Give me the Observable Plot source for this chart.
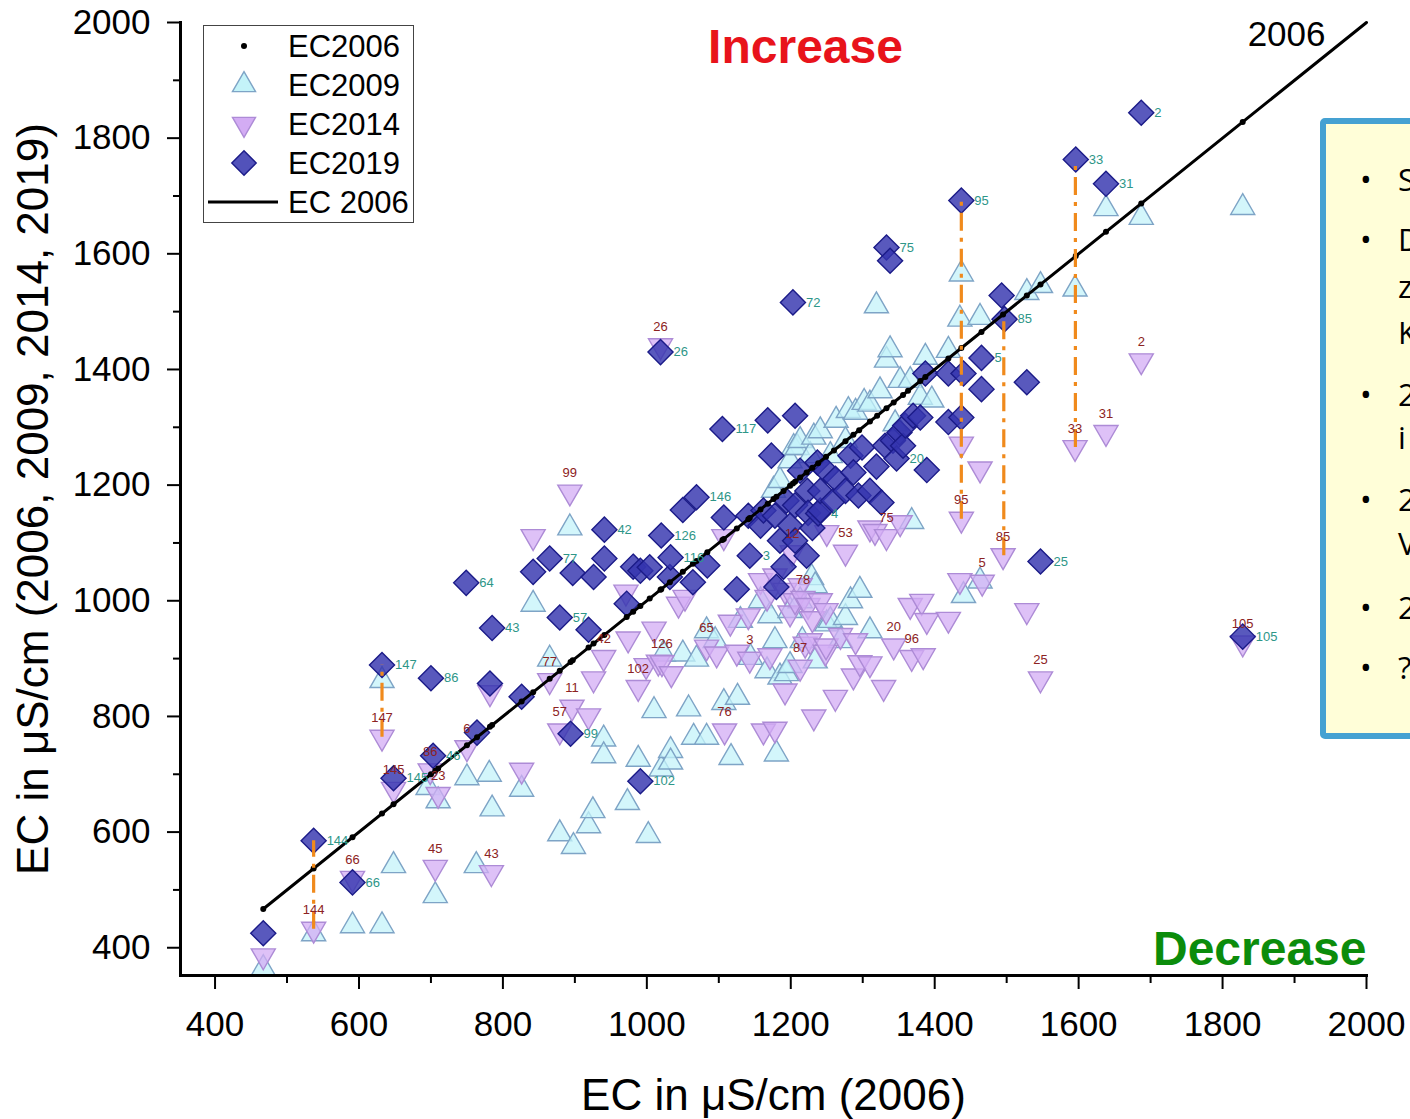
<!DOCTYPE html>
<html><head><meta charset="utf-8">
<script src="https://cdn.jsdelivr.net/npm/d3@7"></script>
<script src="https://cdn.jsdelivr.net/npm/@observablehq/plot@0.6"></script>
<style>
body{margin:0;background:#fff;overflow:hidden;width:1410px;height:1119px;position:relative;font-family:"Liberation Sans",Arial,sans-serif;}
#chart{position:absolute;left:0;top:0;}
.legend{position:absolute;left:203px;top:25px;width:211px;height:198px;border:1.5px solid #444;background:#fff;box-sizing:border-box;}
.note{position:absolute;left:1320px;top:118px;width:150px;height:621px;border:6px solid #45a1d2;border-radius:5px;background:#fffed8;box-sizing:border-box;font-family:"Open Sans","Noto Sans",sans-serif;font-size:31px;color:#000;}
.note span{position:absolute;white-space:nowrap;line-height:1;}
.note span.bl{left:34px;}
.note span.tx{left:72px;}
</style></head><body>
<div id="chart"></div>
<div class="legend" id="legend"></div>
<div class="note">
  <span class="bl" style="top:40px">•</span><span class="tx" style="top:40px">S</span>
  <span class="bl" style="top:100px">•</span><span class="tx" style="top:100px">D</span>
  <span class="tx" style="top:147px">z</span>
  <span class="tx" style="top:193px">K</span>
  <span class="bl" style="top:255px">•</span><span class="tx" style="top:255px">2</span>
  <span class="tx" style="top:298px">i</span>
  <span class="bl" style="top:360px">•</span><span class="tx" style="top:360px">2</span>
  <span class="tx" style="top:404px">V</span>
  <span class="bl" style="top:468px">•</span><span class="tx" style="top:468px">2</span>
  <span class="bl" style="top:528px">•</span><span class="tx" style="top:528px">?</span>
</div>
<script>
// ---- data (EC in µS/cm) ----
// site EC in 2006 (points on the 1:1 line)
const ec2006 = [467,537,591,632,648,700,706,710,750,764,782,785,826,842,865,879,894,897,919,926,941,972,981,991,1004,1019,1020,1032,1050,1064,1069,1084,1105,1107,1125,1141,1143,1158,1168,1176,1180,1190,1199,1203,1206,1213,1222,1230,1238,1249,1260,1276,1287,1295,1310,1320,1333,1343,1356,1363,1380,1387,1419,1437,1465,1495,1528,1547,1596,1638,1687,1828];

// [EC2006, EC2009]
const ec2009 = [[467,364],[537,424],[591,438],[632,438],[632,862],[648,542],[696,677],[706,490],[710,654],[750,694],[763,542],[781,700],[785,640],[826,674],[842,994],[865,899],[879,597],[893,1126],[898,575],[919,611],[925,637],[940,761],[940,732],[973,651],[988,726],[1002,594],[1010,810],[1020,709],[1023,908],[1033,741],[1033,721],[1050,908],[1058,813],[1065,764],[1069,899],[1083,764],[1083,948],[1095,931],[1107,824],[1117,729],[1126,833],[1130,966],[1144,902],[1158,1000],[1167,879],[1171,974],[1176,1191],[1178,931],[1180,735],[1185,868],[1185,1208],[1194,874],[1199,983],[1199,888],[1199,1242],[1204,1265],[1209,1265],[1213,1000],[1213,1277],[1216,931],[1227,1251],[1229,1040],[1232,1283],[1234,1026],[1234,896],[1241,1294],[1250,960],[1255,966],[1255,1251],[1263,1312],[1269,931],[1276,971],[1276,1277],[1280,1329],[1283,1000],[1290,1326],[1296,1018],[1302,1343],[1310,948],[1310,1340],[1319,1510],[1324,1363],[1333,1416],[1338,1434],[1345,1306],[1352,1381],[1366,1381],[1368,1137],[1380,1352],[1387,1421],[1396,1347],[1419,1433],[1435,1487],[1437,1565],[1440,1009],[1463,1490],[1463,1034],[1528,1533],[1547,1545],[1595,1539],[1638,1678],[1687,1663],[1828,1680]];

// [EC2006, EC2014, site label]
const ec2014 = [[467,386],[537,432,"144"],[591,520,"66"],[632,764,"147"],[648,674,"145"],[699,706,"86"],[706,539,"45"],[710,665,"23"],[750,746,"6"],[782,841],[784,530,"43"],[826,707],[842,1111],[865,862,"77"],[879,775,"57"],[893,1188,"99"],[896,816,"11"],[919,801],[926,865],[940,902,"42"],[971,1015],[974,934],[988,850,"102"],[999,888],[1010,951],[1016,894],[1019,1441,"26"],[1021,893,"126"],[1034,874],[1044,994],[1053,1006],[1083,920,"65"],[1097,908],[1107,1111],[1108,775,"76"],[1116,963],[1125,911],[1141,974],[1143,899,"3"],[1158,1035],[1162,775],[1167,1006],[1171,905],[1178,778],[1178,1043],[1192,1018],[1192,844],[1199,979],[1202,1083,"12"],[1206,1000],[1213,885,"87"],[1213,1026],[1217,1004,"78"],[1220,925],[1224,992],[1227,931],[1230,969],[1232,799],[1241,1000],[1248,911],[1249,983],[1249,922],[1250,1118],[1262,833],[1269,940],[1276,1084,"53"],[1287,870],[1290,931],[1296,893],[1310,891],[1310,1126],[1317,1120],[1329,850],[1333,1111,"75"],[1343,922,"20"],[1352,1135],[1366,992],[1368,902,"96"],[1382,999],[1384,905],[1389,966],[1419,968],[1435,1035],[1437,1141,"95"],[1437,1271],[1463,1228],[1466,1032,"5"],[1495,1078,"85"],[1528,983],[1547,865,"25"],[1595,1265,"33"],[1638,1291,"31"],[1687,1415,"2"],[1828,927,"105"]];

// [EC2006, EC2019, site label]
const ec2019 = [[467,425],[537,585,"144"],[591,513,"66"],[632,889,"147"],[648,693,"145"],[700,866,"86"],[703,732,"46"],[749,1031,"64"],[764,772],[782,857],[785,953,"43"],[826,834],[842,1050],[865,1073,"77"],[879,971,"57"],[894,770,"99"],[897,1048],[919,950],[926,1041],[941,1123,"42"],[941,1073],[972,995],[981,1059],[991,1052],[991,688,"102"],[1004,1058],[1019,1430,"26"],[1020,1113,"126"],[1032,1041],[1033,1075,"116"],[1050,1157],[1064,1032],[1069,1179,"146"],[1084,1061],[1105,1297,"117"],[1107,1144],[1125,1020],[1141,1147],[1143,1078,"3"],[1158,1130],[1162,1156],[1168,1312],[1173,1251],[1178,1147],[1180,1024],[1185,1104],[1190,1059],[1194,1173],[1199,1130],[1203,1516,"72"],[1206,1320],[1206,1165],[1206,1104],[1213,1225],[1222,1078],[1223,1190],[1224,1152],[1230,1126],[1237,1239],[1238,1151,"4"],[1241,1156],[1241,1190],[1249,1225],[1259,1173],[1262,1211],[1276,1190],[1283,1251],[1287,1222],[1294,1182],[1299,1265],[1310,1190],[1319,1232],[1326,1170],[1331,1268],[1333,1611,"75"],[1338,1588],[1342,1277],[1347,1246,"20"],[1351,1291],[1356,1268],[1359,1303],[1370,1320],[1380,1317],[1387,1393],[1389,1226],[1419,1393],[1419,1309],[1437,1692,"95"],[1437,1317],[1440,1393],[1465,1420,"5"],[1465,1366],[1493,1528],[1497,1487,"85"],[1528,1378],[1547,1068,"25"],[1596,1763,"33"],[1638,1721,"31"],[1687,1844,"2"],[1828,938,"105"]];

// highlighted changes 2019 -> 2014 at selected sites
const changeSites = ["147","144","95","85","33"];

const majorTicks = [400,600,800,1000,1200,1400,1600,1800,2000];
const minorTicks = [500,700,900,1100,1300,1500,1700,1900];
const axisMax = 2000;

// ---- styling ----
const C2009 = {fill:"#c4f3f9", stroke:"#7ea4c6"};
const C2014 = {fill:"#d3acf4", stroke:"#ad8bd6"};
const C2019 = {fill:"#3434ae", stroke:"#1b1b88"};
const triDown = {draw(ctx, size){const s=Math.sqrt(size)*0.6824,t=s/2,u=s*Math.sqrt(3)/2;ctx.moveTo(0,s);ctx.lineTo(u,-t);ctx.lineTo(-u,-t);ctx.closePath();}};

const rules = changeSites.map(id => {
  const a = ec2019.find(d => d[2] === id), b = ec2014.find(d => d[2] === id);
  return {x: (a[0]+b[0])/2, y1: b[1], y2: a[1]};
});
const lineData = [d3.min(ec2006), axisMax];

const plot = Plot.plot({
  width:1410, height:1119,
  marginLeft:180, marginRight:44, marginTop:22, marginBottom:144,
  style:{fontFamily:"'Liberation Sans', Arial, sans-serif", fontSize:"35px", color:"#000", background:"transparent", overflow:"visible"},
  x:{domain:[352,2000]},
  y:{domain:[352,2000]},
  marks:[
    Plot.axisX({ticks:majorTicks, tickSize:14, tickPadding:22, strokeWidth:2, fontSize:35, label:null, tickFormat:d=>String(d)}),
    Plot.axisX({ticks:minorTicks, tickSize:8, strokeWidth:2, text:null, label:null}),
    Plot.axisY({ticks:majorTicks, tickSize:13, tickPadding:17, strokeWidth:2, fontSize:35, label:null, tickFormat:d=>String(d)}),
    Plot.axisY({ticks:minorTicks, tickSize:7, strokeWidth:2, text:null, label:null}),
    Plot.dot(ec2009, {x:d=>d[0], y:d=>d[1], symbol:"triangle2", r:11.5, fill:C2009.fill, fillOpacity:0.75, stroke:C2009.stroke, strokeWidth:1.4, clip:true}),
    Plot.dot(ec2014, {x:d=>d[0], y:d=>d[1], symbol:triDown, r:11.5, fill:C2014.fill, fillOpacity:0.75, stroke:C2014.stroke, strokeWidth:1.4, clip:true}),
    Plot.dot(ec2019, {x:d=>d[0], y:d=>d[1], symbol:"diamond2", r:11.3, fill:C2019.fill, fillOpacity:0.82, stroke:C2019.stroke, strokeWidth:1.4, clip:true}),
    Plot.line(lineData, {x:d=>d, y:d=>d, stroke:"#000", strokeWidth:3}),
    Plot.dot(ec2006, {x:d=>d, y:d=>d, r:3, fill:"#000"}),
    Plot.ruleX(rules, {x:"x", y1:"y1", y2:"y2", stroke:"#f08a1c", strokeWidth:3.2, strokeDasharray:"18,7,4,7"}),
    Plot.text(ec2019.filter(d=>d[2]), {x:d=>d[0], y:d=>d[1], text:d=>d[2], dx:13, textAnchor:"start", fill:"#2e9688", fontSize:13}),
    Plot.text(ec2014.filter(d=>d[2]), {x:d=>d[0], y:d=>d[1], text:d=>d[2], dy:-19, fill:"#8c2222", fontSize:13}),
    Plot.frame({anchor:"left", strokeWidth:3}),
    Plot.frame({anchor:"bottom", strokeWidth:3}),
    Plot.text(["2006"], {frameAnchor:"top-right", dx:-41, dy:12, textAnchor:"end", lineAnchor:"middle", fontSize:35}),
    Plot.text(["Increase"], {frameAnchor:"top", dx:32, dy:25, textAnchor:"middle", lineAnchor:"middle", fontSize:48, fontWeight:"bold", fill:"#e8131b"}),
    Plot.text(["Decrease"], {frameAnchor:"bottom-right", dx:0, dy:-26, textAnchor:"end", lineAnchor:"middle", fontSize:48, fontWeight:"bold", fill:"#0b8c0b"}),
    Plot.text(["EC in μS/cm (2006)"], {frameAnchor:"bottom", dy:120, textAnchor:"middle", lineAnchor:"middle", fontSize:44}),
    Plot.text(["EC in μS/cm (2006, 2009, 2014, 2019)"], {frameAnchor:"left", dx:-147, rotate:-90, textAnchor:"middle", lineAnchor:"middle", fontSize:44})
  ]
});
document.getElementById("chart").appendChild(plot);

// ---- legend ----
const items = [
  {label:"EC2006", kind:"dot"},
  {label:"EC2009", kind:"up"},
  {label:"EC2014", kind:"down"},
  {label:"EC2019", kind:"diamond"},
  {label:"EC 2006", kind:"line"}
];
const lg = d3.select("#legend").append("svg").attr("width",208).attr("height",195).style("position","absolute").style("left","0").style("top","0");
const area = Math.PI*11*11;
items.forEach((it,i)=>{
  const cy = 20 + i*39;
  const g = lg.append("g").attr("transform",`translate(40,${cy})`);
  if(it.kind==="dot") g.append("circle").attr("r",3).attr("fill","#000");
  if(it.kind==="up") g.append("path").attr("d",d3.symbol(d3.symbolTriangle2, area)()).attr("fill",C2009.fill).attr("stroke",C2009.stroke).attr("stroke-width",1.4);
  if(it.kind==="down") g.append("path").attr("d",d3.symbol(triDown, area)()).attr("fill",C2014.fill).attr("stroke",C2014.stroke).attr("stroke-width",1.4);
  if(it.kind==="diamond") g.append("path").attr("d",d3.symbol(d3.symbolDiamond2, area)()).attr("fill",C2019.fill).attr("fill-opacity",0.85).attr("stroke",C2019.stroke).attr("stroke-width",1.4);
  if(it.kind==="line") g.append("line").attr("x1",-36).attr("x2",34).attr("stroke","#000").attr("stroke-width",3);
  lg.append("text").attr("x",84).attr("y",cy).attr("dy","0.36em").attr("font-size",31).attr("font-family","'Liberation Sans', Arial, sans-serif").text(it.label);
});
</script>
</body></html>
